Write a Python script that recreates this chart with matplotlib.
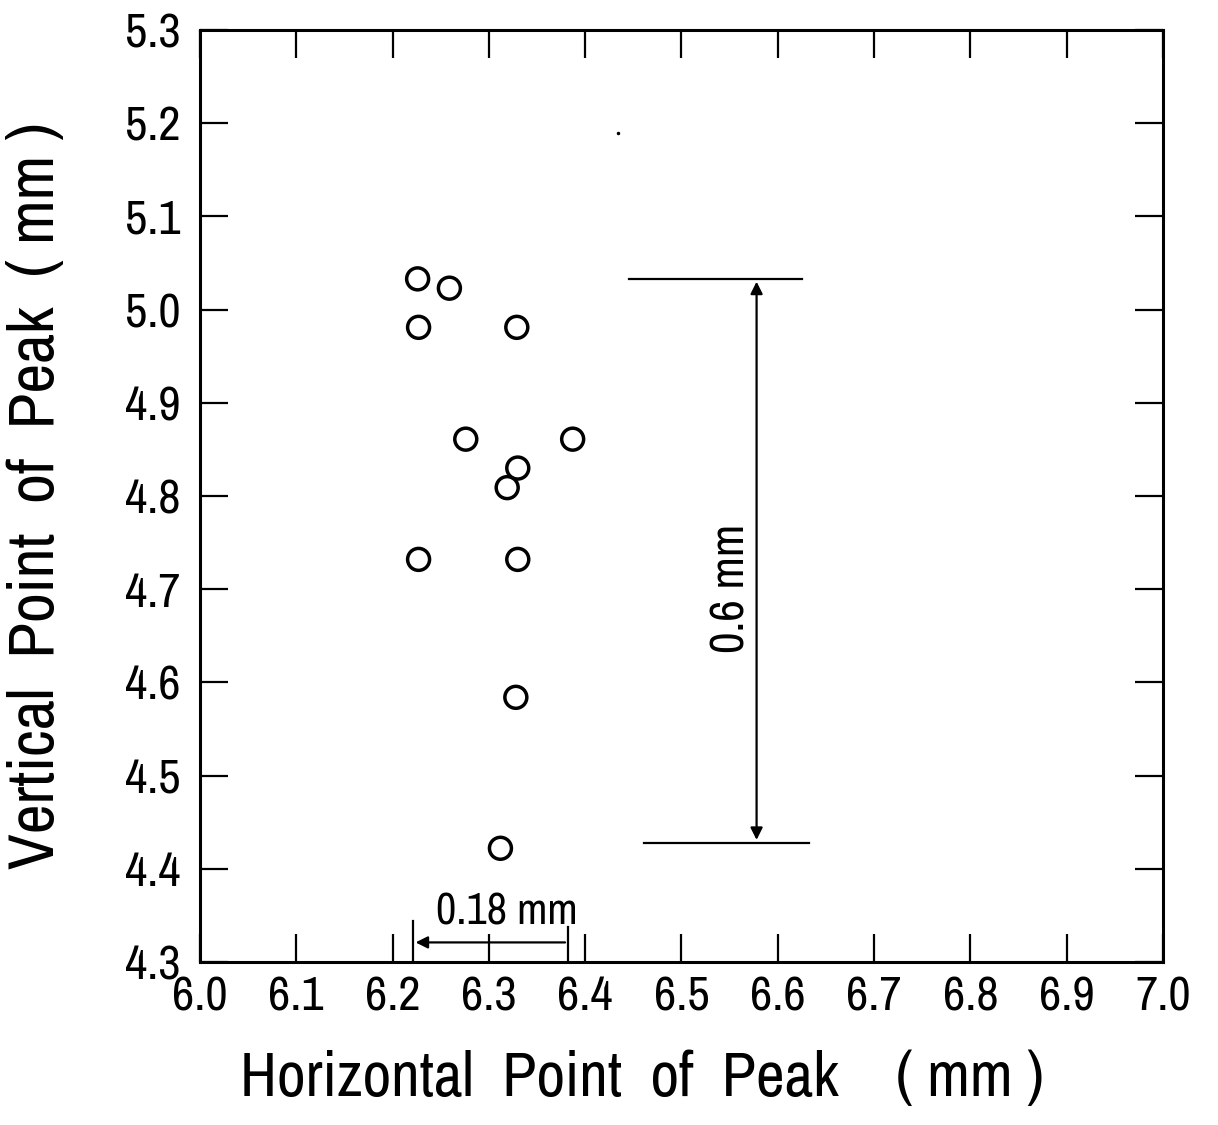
import numpy as np
import matplotlib.pyplot as plt
from matplotlib import font_manager

# peak positions (mm)
horiz = [6.226, 6.259, 6.227, 6.329, 6.276, 6.387, 6.330, 6.319, 6.227, 6.330, 6.328, 6.312]
vert = [5.033, 5.023, 4.981, 4.981, 4.861, 4.861, 4.830, 4.809, 4.732, 4.732, 4.584, 4.422]

# spread markers
v_top, v_bot, v_x = 5.033, 4.428, 6.578
h_left, h_right = 6.221, 6.382

names = sorted(set(f.name for f in font_manager.fontManager.ttflist))
narrow = [n for n in names if 'Narrow' in n or 'Condensed' in n]
plt.rcParams['font.family'] = narrow[:1] + ['DejaVu Sans']
plt.rcParams['font.stretch'] = 'condensed'

fig = plt.figure(figsize=(12.18, 11.25), dpi=100)
ax = fig.add_axes([0.1642, 0.1449, 0.7906, 0.8284])

ax.scatter(horiz, vert, s=250, facecolors='none', edgecolors='black', linewidths=2.5, zorder=3)
ax.plot([6.434], [5.189], marker='.', color='black', markersize=3)

# vertical spread 0.6 mm
ax.plot([6.446, 6.625], [v_top, v_top], color='black', lw=1.6)
ax.plot([6.461, 6.632], [v_bot, v_bot], color='black', lw=1.6)
ax.annotate('', xy=(v_x, v_top), xytext=(v_x, v_bot),
            arrowprops=dict(arrowstyle='<|-|>', color='black', lw=1.6, mutation_scale=18))
ax.text(v_x - 0.027, 4.701, '0.6 mm', rotation=90, ha='center', va='center', fontsize=34)

# horizontal spread 0.18 mm
ax.plot([h_left, h_left], [4.3, 4.344], color='black', lw=1.6)
ax.plot([h_right, h_right], [4.3, 4.338], color='black', lw=1.6)
ax.annotate('', xy=(h_left, 4.321), xytext=(h_right, 4.321),
            arrowprops=dict(arrowstyle='-|>', color='black', lw=1.6, mutation_scale=18))
ax.text(6.319, 4.353, '0.18 mm', ha='center', va='center', fontsize=32)

ax.set_xlim(6.0, 7.0)
ax.set_ylim(4.3, 5.3)
ax.set_xticks(np.arange(6.0, 7.01, 0.1))
ax.set_yticks(np.arange(4.3, 5.31, 0.1))
ax.set_xticklabels(['%.1f' % v for v in np.arange(6.0, 7.01, 0.1)])
ax.set_yticklabels(['%.1f' % v for v in np.arange(4.3, 5.31, 0.1)])
ax.tick_params(direction='in', length=20, width=1.6, top=True, right=True,
               labelsize=35, pad=10)
ax.tick_params(axis='y', pad=14)
for s in ax.spines.values():
    s.set_linewidth(2.2)

ax.set_xlabel('Horizontal  Point  of  Peak    ( mm )', fontsize=45)
ax.set_ylabel('Vertical  Point  of  Peak  ( mm )', fontsize=47)
ax.xaxis.set_label_coords(0.459, -0.094)
ax.yaxis.set_label_coords(-0.14, 0.5)

fig.savefig('out.png', dpi=100)
